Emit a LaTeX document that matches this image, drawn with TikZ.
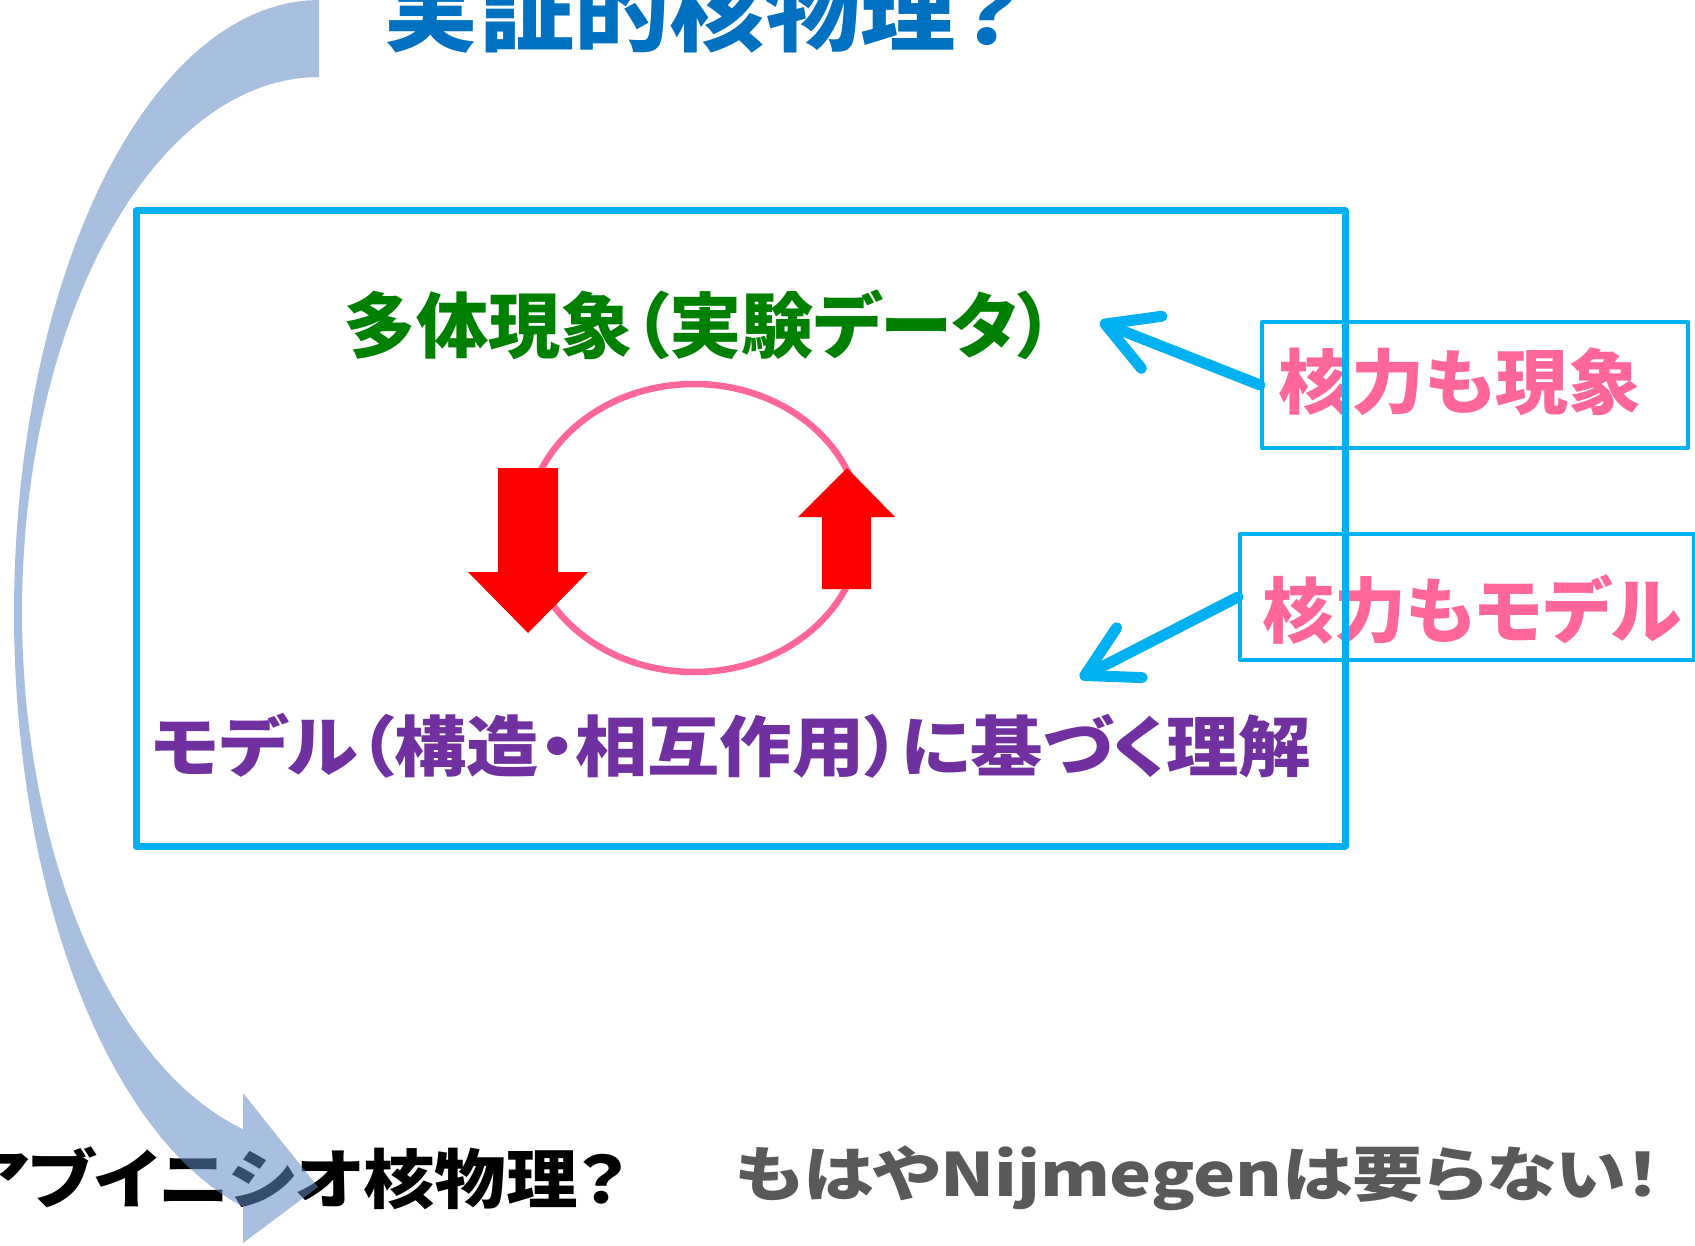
\documentclass[tikz,border=0pt]{standalone}
\usepackage{fontspec}
\usepackage{graphicx}
\newfontfamily\jp{Noto Sans CJK JP}[RawFeature=+palt]
\usetikzlibrary{arrows.meta,shapes.geometric}
\definecolor{cyanbox}{RGB}{0,176,240}
\definecolor{titleblue}{RGB}{0,112,192}
\definecolor{greenc}{RGB}{0,128,0}
\definecolor{purplec}{RGB}{112,48,160}
\definecolor{pinkc}{RGB}{255,102,153}
\definecolor{redc}{RGB}{255,0,0}
\definecolor{grayc}{RGB}{89,89,89}
\definecolor{arrowc}{RGB}{100,140,200}
\begin{document}
\begin{tikzpicture}[x=1pt,y=-1pt,
  txt/.style={inner sep=0pt,outer sep=0pt},
  frame/.style={draw=cyanbox,line width=4pt,inner sep=0pt,line join=round},
  bluearr/.style={draw=cyanbox,line width=11pt,line cap=round,-{Straight Barb[length=50pt,width=56pt,round]}},
  redarr/.style={fill=redc,draw=none}]
\useasboundingbox (0,0) rectangle (1695,1246);
\fill[white] (0,0) rectangle (1695,1246);
% bottom texts
\node[txt] (abinitio) at (295,1178.5) {\resizebox*{665pt}{63pt}{\jp\bfseries アブイニシオ核物理？}};
\node[txt,text=grayc] (nijm) at (1198,1178.5) {\resizebox*{926pt}{65pt}{\jp\bfseries もはやNijmegenは要らない！}};
% title
\node[txt,text=titleblue] (title) at (703,11) {\resizebox*{638pt}{85pt}{\jp\bfseries 実証的核物理？}};
% curved arrow
\fill[arrowc,fill opacity=0.55]
  plot[domain=0:165.6,samples=80] ({319-305*sin(\x)},{613-613*cos(\x)})
  -- (243,1243) -- (318,1187) -- (243,1093) -- (243,1129)
  -- plot[domain=165.17:0,samples=80] ({319-297*sin(\x)},{612-535*cos(\x)}) -- cycle;
% cycle
\node[ellipse,draw=pinkc,line width=6.5pt,minimum width=334pt,minimum height=288pt,inner sep=0pt] (cyc) at (694,528) {};
\fill[redarr] (498,468) -- (558,468) -- (558,572) -- (588,572) -- (528,633) -- (468,572) -- (498,572) -- cycle;
\fill[redarr] (847,468) -- (895,517) -- (871,517) -- (871,589) -- (822,589) -- (822,517) -- (798,517) -- cycle;
% texts in box
\node[txt,text=greenc] (phen) at (699,325) {\resizebox*{710pt}{70pt}{\jp\bfseries 多体現象（実験データ）}};
\node[txt,text=purplec] (model) at (731,746) {\resizebox*{1160pt}{65pt}{\jp\bfseries モデル（構造・相互作用）に基づく理解}};
% side boxes
\node[txt,text=pinkc] (k1) at (1460,382) {\resizebox*{362pt}{68pt}{\jp\bfseries 核力も現象}};
\node[txt,text=pinkc] (k2) at (1472,610) {\resizebox*{418pt}{70pt}{\jp\bfseries 核力もモデル}};
\node[frame,minimum width=426pt,minimum height=126pt] (box1) at (1475,385) {};
\node[frame,minimum width=454pt,minimum height=126pt] (box2) at (1467,597) {};
\coordinate (tip1) at (1100,322);
\coordinate (tip2) at (1080,678);
\draw[bluearr] (box1.west) -- (tip1);
\draw[bluearr] (box2.west) -- (tip2);
% main box
\node[frame,line width=7pt,minimum width=1209pt,minimum height=635pt] (mainbox) at (740.5,528.5) {};
\end{tikzpicture}
\end{document}
